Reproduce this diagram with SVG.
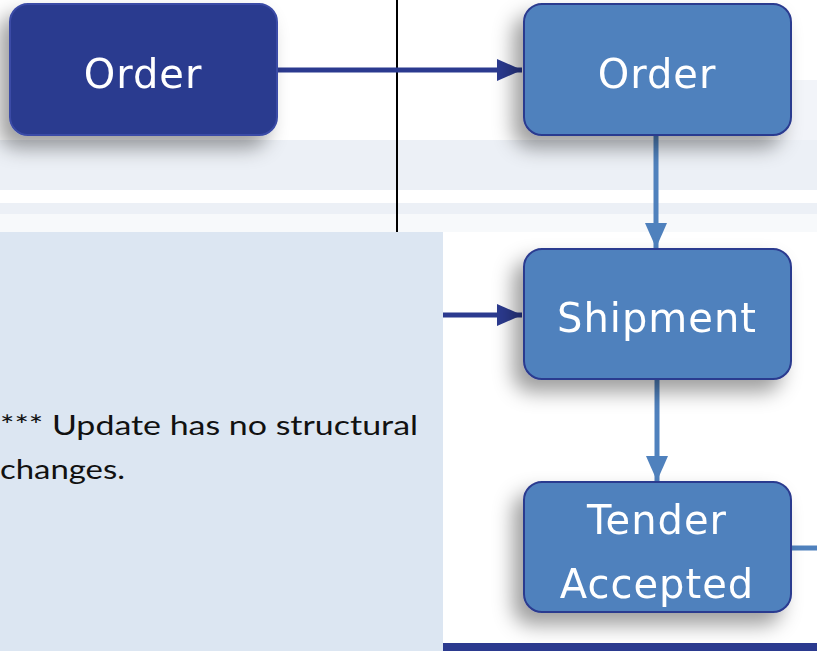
<svg xmlns="http://www.w3.org/2000/svg" width="817" height="651" viewBox="0 0 817 651">
<defs>
<style>
.box-dark{fill:#2b3a8f;stroke:#3b4ca6;stroke-width:2}
.box-light{fill:#4f81bd;stroke:#2b3a8f;stroke-width:2}
.lbl{font-family:"DejaVu Sans","Liberation Sans",sans-serif;font-size:40px;fill:#ffffff;text-anchor:middle;letter-spacing:1px}
.note{font-family:Lato,"DejaVu Sans",sans-serif;font-size:26px;fill:#111111}
.c-dark{stroke:#2b3a8f;stroke-width:5;fill:none}
.c-light{stroke:#4f81bd;stroke-width:5;fill:none}
.wm{fill:#ecf0f6}
</style>
<filter id="sh" x="-30%" y="-30%" width="160%" height="170%">
<feDropShadow dx="-10" dy="12" stdDeviation="10" flood-color="#000000" flood-opacity="0.38"/>
</filter>
<marker id="ahDark" markerWidth="5" markerHeight="4.4" refX="5" refY="2.2" orient="auto" markerUnits="strokeWidth">
<path d="M0,0 L5,2.2 L0,4.4 Z" fill="#2b3a8f"/>
</marker>
<marker id="ahLight" markerWidth="5" markerHeight="4.4" refX="5" refY="2.2" orient="auto" markerUnits="strokeWidth">
<path d="M0,0 L5,2.2 L0,4.4 Z" fill="#4f81bd"/>
</marker>
</defs>
<rect x="0" y="0" width="817" height="651" fill="#ffffff"/>
<g id="watermark">
<rect class="wm" x="0" y="140" width="817" height="92"/>
<rect x="0" y="190" width="817" height="13" fill="#ffffff"/>
<rect x="0" y="214" width="817" height="18" fill="#ffffff" opacity="0.6"/>
<rect class="wm" x="780" y="80" width="37" height="110" opacity="0.7"/>
</g>
<rect x="0" y="232" width="443" height="419" fill="#dce6f2"/>
<line x1="397" y1="0" x2="397" y2="232" stroke="#000000" stroke-width="2"/>
<rect x="443" y="643" width="374" height="8" fill="#2b3a8f"/>
<g id="connectors">
<line class="c-dark" x1="277" y1="70" x2="522" y2="70" marker-end="url(#ahDark)"/>
<line class="c-dark" x1="443" y1="315" x2="522" y2="315" marker-end="url(#ahDark)"/>
<line class="c-light" x1="656" y1="135" x2="656" y2="248" marker-end="url(#ahLight)"/>
<line class="c-light" x1="657" y1="379" x2="657" y2="481" marker-end="url(#ahLight)"/>
<line class="c-light" x1="791" y1="548" x2="817" y2="548"/>
</g>
<g id="order-left" filter="url(#sh)">
<rect class="box-dark" x="10" y="4" width="267" height="131" rx="18"/>
<text class="lbl" x="143" y="88">Order</text>
</g>
<g id="order-right" filter="url(#sh)">
<rect class="box-light" x="524" y="4" width="267" height="131" rx="18"/>
<text class="lbl" x="657" y="88">Order</text>
</g>
<g id="shipment" filter="url(#sh)">
<rect class="box-light" x="524" y="249" width="267" height="130" rx="18"/>
<text class="lbl" x="657" y="332">Shipment</text>
</g>
<g id="tender-accepted" filter="url(#sh)">
<rect class="box-light" x="524" y="482" width="267" height="130" rx="18"/>
<text class="lbl" x="657" y="534">Tender</text>
<text class="lbl" x="657" y="598">Accepted</text>
</g>
<g id="note">
<text class="note" x="0" y="435" textLength="418" lengthAdjust="spacingAndGlyphs">*** Update has no structural</text>
<text class="note" x="0" y="479" textLength="125" lengthAdjust="spacingAndGlyphs">changes.</text>
</g>
</svg>
